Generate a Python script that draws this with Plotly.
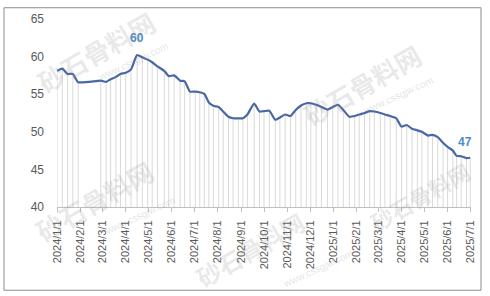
import plotly.graph_objects as go

dates = [
    "2024-01-01", "2024-01-08", "2024-01-15", "2024-01-22", "2024-01-29",
    "2024-02-28", "2024-03-06", "2024-03-12", "2024-03-19", "2024-03-25",
    "2024-04-01", "2024-04-08", "2024-04-16", "2024-04-23", "2024-04-30",
    "2024-05-06", "2024-05-13", "2024-05-22", "2024-05-28", "2024-06-04",
    "2024-06-12", "2024-06-18", "2024-06-25", "2024-07-02", "2024-07-08",
    "2024-07-14", "2024-07-20", "2024-07-26", "2024-08-02", "2024-08-08",
    "2024-08-15", "2024-08-21", "2024-08-28", "2024-09-03", "2024-09-09",
    "2024-09-18", "2024-09-25", "2024-10-01", "2024-10-08", "2024-10-16",
    "2024-10-22", "2024-10-29", "2024-11-05", "2024-11-12", "2024-11-19",
    "2024-11-26", "2024-12-02", "2024-12-09", "2024-12-16", "2024-12-24",
    "2024-12-31", "2025-01-07", "2025-01-14", "2025-01-22", "2025-01-29",
    "2025-02-04", "2025-02-11", "2025-02-18", "2025-02-24", "2025-03-04",
    "2025-03-10", "2025-03-17", "2025-03-25", "2025-04-01", "2025-04-08",
    "2025-04-15", "2025-04-22", "2025-04-28", "2025-05-06", "2025-05-12",
    "2025-05-19", "2025-05-26", "2025-06-01", "2025-06-08", "2025-06-13",
    "2025-06-19", "2025-06-26", "2025-07-01",
]
prices = [
    58.1, 58.4, 57.7, 57.7, 56.6,
    56.8, 56.65, 57.0, 57.3, 57.7,
    57.85, 58.3, 60.2, 59.9, 59.6,
    59.25, 58.7, 58.1, 57.4, 57.5,
    56.8, 56.7, 55.35, 55.35, 55.26,
    55.05, 53.9, 53.45, 53.3, 52.7,
    52.0, 51.8, 51.8, 51.8, 52.3,
    53.75, 52.7, 52.75, 52.8, 51.6,
    51.9, 52.3, 52.1, 52.9, 53.5,
    53.8, 53.8, 53.6, 53.3, 52.96,
    53.3, 53.6, 52.9, 52.0, 52.1,
    52.3, 52.5, 52.75, 52.7, 52.5,
    52.3, 52.1, 51.8, 50.7, 50.9,
    50.4, 50.2, 50.0, 49.5, 49.6,
    49.3, 48.55, 48.0, 47.5, 46.8,
    46.75, 46.5, 46.55,
]
y_ticks = [40, 45, 50, 55, 60, 65]
watermark_text = "砂石骨料网"
watermark_url = "www.cssgjw.com"

Y_MIN, Y_MAX = 40, 65
LINE_COLOR = "#4a67a6"
LABEL_COLOR = "#4f8cc4"
FONT = "Liberation Sans"

# drop lines from each point to the axis floor
drop_x, drop_y = [], []
for d, v in zip(dates, prices):
    drop_x += [d, d, None]
    drop_y += [Y_MIN, v, None]

fig = go.Figure()
fig.add_trace(go.Scatter(
    x=drop_x, y=drop_y, mode="lines",
    line=dict(color="#d9d9d9", width=1),
    hoverinfo="skip", showlegend=False,
))
fig.add_trace(go.Scatter(
    x=dates, y=prices, mode="lines",
    line=dict(color=LINE_COLOR, width=2.2, shape="spline", smoothing=0.5),
    showlegend=False,
))

# data labels: peak and last
i_max = prices.index(max(prices))
fig.add_annotation(x=dates[i_max], y=prices[i_max], text=f"<b>{prices[i_max]:.0f}</b>",
                   showarrow=False, yshift=17, xshift=0,
                   font=dict(family=FONT, size=12, color=LABEL_COLOR))
fig.add_annotation(x=dates[-1], y=prices[-1], text=f"<b>{prices[-1]:.0f}</b>",
                   showarrow=False, yshift=16, xshift=-5,
                   font=dict(family=FONT, size=12, color=LABEL_COLOR))

# watermarks (pixel positions converted to paper coords)
PL, PR, PT, PB = 57, 471, 15, 207
def px(x):
    return (x - PL) / (PR - PL)
def py(y):
    return (PB - y) / (PB - PT)

wm_big = [(96, 48, 26), (362, 82, 26), (94, 200, 26), (420, 196, 22), (250, 250, 24)]
wm_small = [(133, 58), (398, 93), (140, 216), (318, 270)]
for (x, y, s) in wm_big:
    fig.add_annotation(xref="paper", yref="paper", x=px(x), y=py(y),
                       text=f"<b>{watermark_text}</b>", showarrow=False, textangle=-30,
                       font=dict(family="Noto Sans CJK SC", size=s, color="rgba(140,140,140,0.2)"),
                       xanchor="center", yanchor="middle")
for (x, y) in wm_small:
    fig.add_annotation(xref="paper", yref="paper", x=px(x), y=py(y),
                       text=watermark_url, showarrow=False, textangle=-25,
                       font=dict(family=FONT, size=10, color="rgba(140,140,140,0.25)"),
                       xanchor="center", yanchor="middle")

# outer chart border
fig.add_shape(type="rect", xref="paper", yref="paper",
              x0=px(4), x1=px(481), y0=py(292), y1=py(3.5),
              line=dict(color="#8c8c8c", width=1), fillcolor="rgba(0,0,0,0)")

fig.update_layout(
    width=490, height=296,
    margin=dict(l=PL, r=490 - PR, t=PT, b=296 - PB),
    paper_bgcolor="white", plot_bgcolor="white",
    font=dict(family=FONT, color="#595959"),
    xaxis=dict(
        type="date",
        range=["2024-01-01", "2025-07-02"],
        dtick="M1", tick0="2024-01-01",
        tickformat="%Y/%-m/%-d",
        tickangle=-90,
        tickfont=dict(size=11, color="#595959"),
        showgrid=False, zeroline=False,
        showline=True, linecolor="#bfbfbf", linewidth=1,
        ticks="outside", ticklen=4, tickcolor="#bfbfbf",
        ticklabelstandoff=4,
    ),
    yaxis=dict(
        range=[Y_MIN, Y_MAX],
        tickvals=y_ticks,
        tickfont=dict(size=12, color="#595959"),
        showgrid=False, zeroline=False, showline=False,
        ticklabelstandoff=12,
    ),
)

fig.write_html("out.html")
